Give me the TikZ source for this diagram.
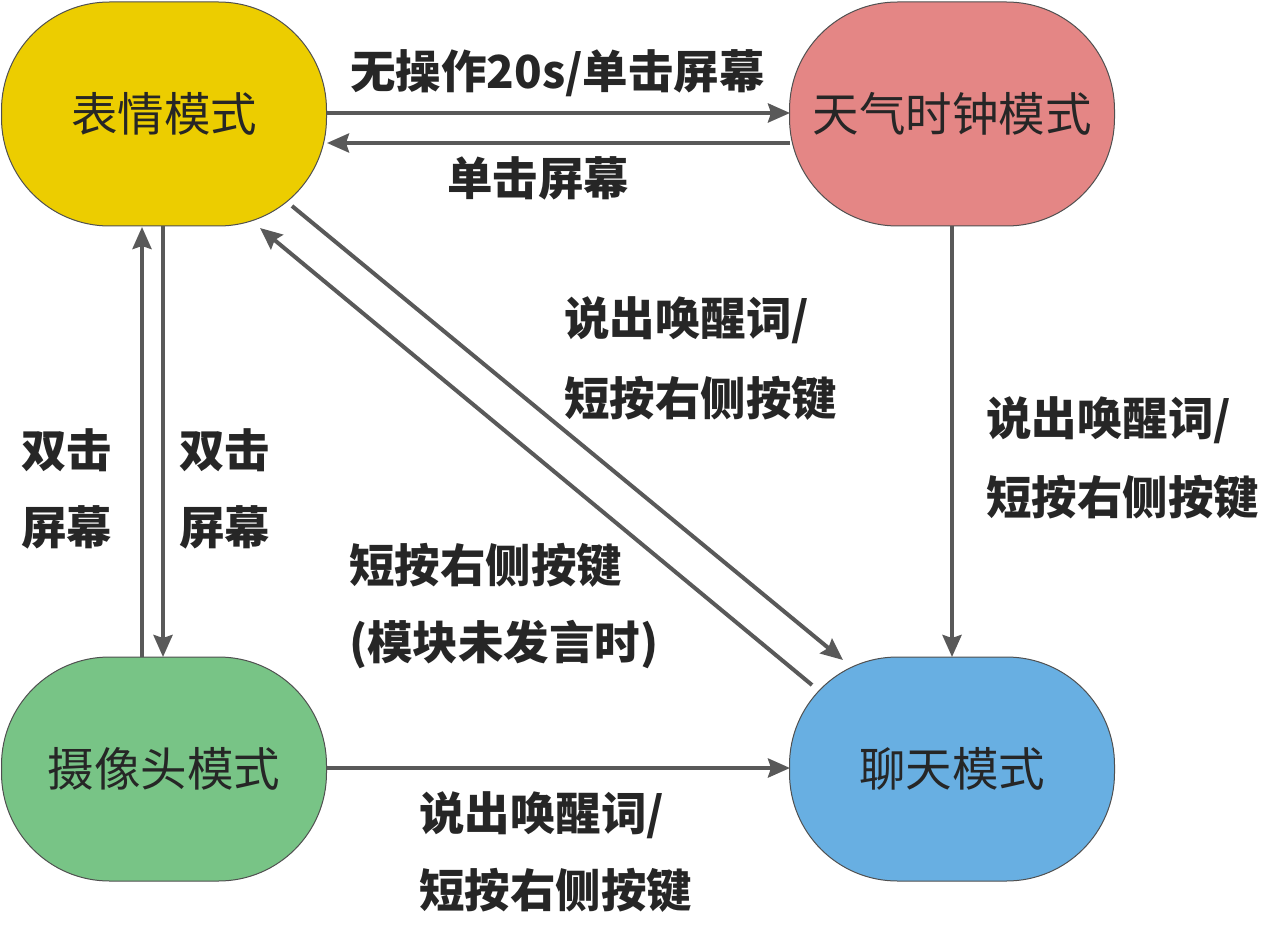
\documentclass[tikz,border=0pt]{standalone}
\usepackage{fontspec}
\newfontfamily\cjk{Noto Sans CJK SC}
\usetikzlibrary{arrows.meta,calc}
\definecolor{cyellow}{HTML}{ECCD00}
\definecolor{cpink}{HTML}{E48685}
\definecolor{cgreen}{HTML}{78C486}
\definecolor{cblue}{HTML}{68AFE2}
\definecolor{carrow}{HTML}{595959}
\definecolor{ctext}{HTML}{262626}
\definecolor{cborder}{HTML}{505050}
\begin{document}
\begin{tikzpicture}[x=1pt,y=-1pt,
  state/.style={draw=cborder, line width=1pt, rounded corners=108pt, minimum width=325pt, minimum height=224pt, inner sep=0pt, font=\cjk\fontsize{46.5}{52}\selectfont, text=ctext},
  lbl/.style={anchor=west, inner sep=0pt, font=\cjk\bfseries\fontsize{45.5}{52}\selectfont, text=ctext},
  arr/.style={draw=carrow, line width=4pt, -{Stealth[length=22pt,width=19pt,inset=3pt]}}
]
\useasboundingbox (0,0) rectangle (1265,933);
\node[state, fill=cyellow] (yel) at (164,114) {表情模式};
\node[state, fill=cpink] (pink) at (952,114) {天气时钟模式};
\node[state, fill=cgreen] (green) at (164,769) {摄像头模式};
\node[state, fill=cblue] (blue) at (952,769) {聊天模式};

% top pair
\draw[arr] ($(yel.center)+(163,-1)$) -- ($(pink.center)+(-162,-1)$);
\draw[arr] ($(pink.center)+(-162,29)$) -- ($(yel.center)+(163,29)$);
% left verticals
\draw[arr] ($(green.center)+(-22,-112)$) -- ($(yel.center)+(-22,113)$);
\draw[arr] ($(yel.center)+(-1,112)$) -- ($(green.center)+(-1,-112)$);
% diagonals
\draw[arr] ($(yel.center)+(128,92)$) -- ($(blue.center)+(-109,-109)$);
\draw[arr] ($(blue.center)+(-140,-84)$) -- ($(yel.center)+(96,114)$);
% right vertical
\draw[arr] ($(pink.center)+(0,112)$) -- ($(blue.center)+(0,-112)$);
% bottom
\draw[arr] ($(green.center)+(163,-1)$) -- ($(blue.center)+(-162,-1)$);

% labels
\node[lbl] (l1) at (350,73) {无操作20s/单击屏幕};
\node[lbl] (l2) at (447,178) {单击屏幕};
\node[lbl] (l3) at (21,450) {双击};
\node[lbl] (l4) at (21,527) {屏幕};
\node[lbl] (l5) at (179,450) {双击};
\node[lbl] (l6) at (179,527) {屏幕};
\node[lbl] (l7) at (564,320) {说出唤醒词/};
\node[lbl] (l8) at (564,398) {短按右侧按键};
\node[lbl] (l9) at (349,565) {短按右侧按键};
\node[lbl] (l10) at (349,645) {(模块未发言时)};
\node[lbl] (l11) at (986,420) {说出唤醒词/};
\node[lbl] (l12) at (986,497) {短按右侧按键};
\node[lbl] (l13) at (419,815) {说出唤醒词/};
\node[lbl] (l14) at (419,890) {短按右侧按键};
\end{tikzpicture}
\end{document}
